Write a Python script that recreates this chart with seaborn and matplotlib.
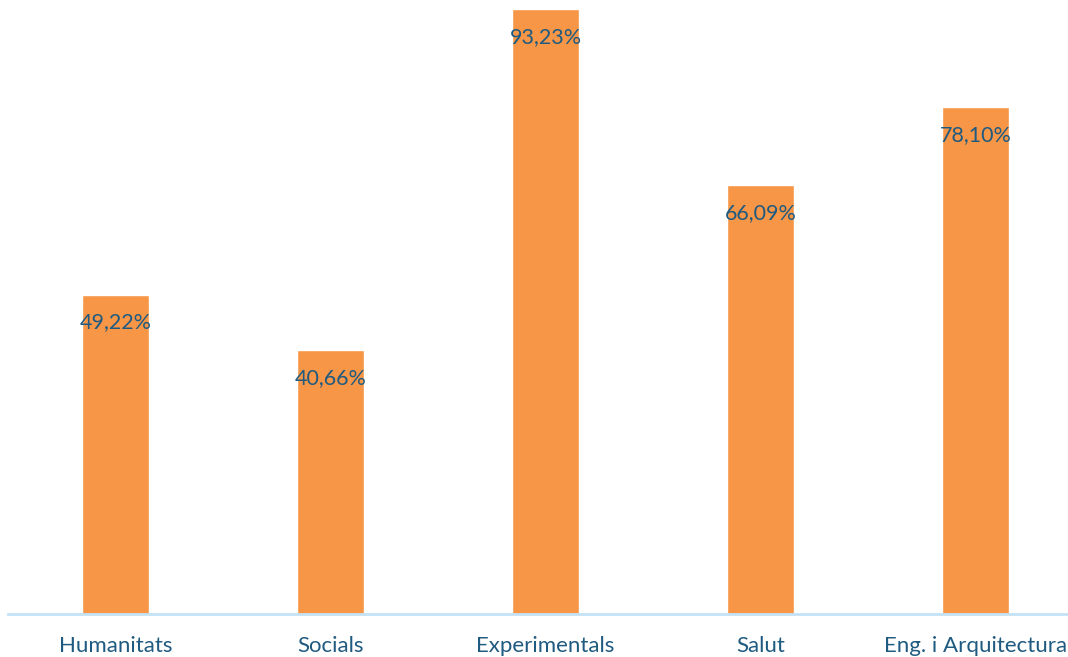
import pandas as pd
import matplotlib.pyplot as plt
import seaborn as sns

# Dades del gràfic
arees = ['Humanitats', 'Socials', 'Experimentals', 'Salut', 'Eng. i Arquitectura']
percentatges = [49.22, 40.66, 93.23, 66.09, 78.10]

color_barra = '#f79646'
color_text = '#1f5a80'

sns.set_style('white')
plt.rcParams['font.family'] = ['Lato', 'DejaVu Sans']

df = pd.DataFrame({'Area': arees, 'Valor': percentatges})

fig = plt.figure(figsize=(10.68, 6.57), dpi=100)
ax = fig.add_axes([8 / 1068, 43 / 657, 1060 / 1068, 614 / 657])

sns.barplot(data=df, x='Area', y='Valor', color=color_barra, saturation=1,
            width=0.31, ax=ax)

ax.set_xlim(-0.5, 4.43)
ax.set_ylim(0, 94.6)
ax.set_xlabel('')
ax.set_ylabel('')
ax.set_yticks([])

for s in ['top', 'right', 'left']:
    ax.spines[s].set_visible(False)
ax.spines['bottom'].set_color('#c3e2f6')
ax.spines['bottom'].set_linewidth(2)

ax.tick_params(axis='x', length=0, pad=16, labelsize=16, labelcolor=color_text)

# Etiquetes de valor dins de cada barra
for i, v in enumerate(percentatges):
    etiqueta = f'{v:.2f}%'.replace('.', ',')
    ax.annotate(etiqueta, (i, v), xytext=(0, -20), textcoords='offset points',
                ha='center', va='center', fontsize=15.5, color=color_text)

fig.savefig('out.png', dpi=100)
